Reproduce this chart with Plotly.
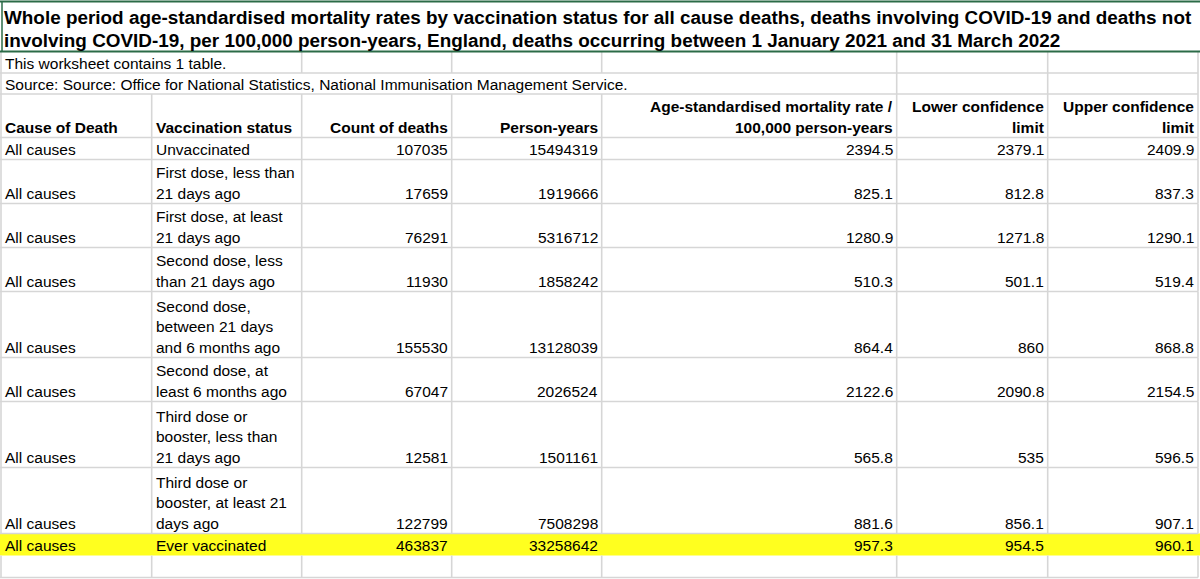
import plotly.graph_objects as go

# worksheet contents
title_lines = [
    "Whole period age-standardised mortality rates by vaccination status for all cause deaths, deaths involving COVID-19 and deaths not",
    "involving COVID-19, per 100,000 person-years, England, deaths occurring between 1 January 2021 and 31 March 2022",
]
note = "This worksheet contains 1 table."
source = "Source: Source: Office for National Statistics, National Immunisation Management Service."

headers = ["Cause of Death", "Vaccination status", "Count of deaths", "Person-years",
           "Age-standardised mortality rate /\n100,000 person-years",
           "Lower confidence\nlimit", "Upper confidence\nlimit"]

cause = ["All causes"] * 9
status = [
    "Unvaccinated",
    "First dose, less than\n21 days ago",
    "First dose, at least\n21 days ago",
    "Second dose, less\nthan 21 days ago",
    "Second dose,\nbetween 21 days\nand 6 months ago",
    "Second dose, at\nleast 6 months ago",
    "Third dose or\nbooster, less than\n21 days ago",
    "Third dose or\nbooster, at least 21\ndays ago",
    "Ever vaccinated",
]
deaths = [107035, 17659, 76291, 11930, 155530, 67047, 12581, 122799, 463837]
person_years = [15494319, 1919666, 5316712, 1858242, 13128039, 2026524, 1501161, 7508298, 33258642]
rate = [2394.5, 825.1, 1280.9, 510.3, 864.4, 2122.6, 565.8, 881.6, 957.3]
lower = [2379.1, 812.8, 1271.8, 501.1, 860, 2090.8, 535, 856.1, 954.5]
upper = [2409.9, 837.3, 1290.1, 519.4, 868.8, 2154.5, 596.5, 907.1, 960.1]
highlight_row = 8  # "Ever vaccinated"

# sheet geometry (pixels)
W, H = 1200, 579
col_edges = [1, 151.7, 301.7, 451.7, 601.7, 896.7, 1047.7, 1198]
col_align = ["left", "left", "right", "right", "right", "right", "right"]
ROW = 22        # height of one text line of a row
STEP = 20.6     # spacing of wrapped lines
PAD = 2
FONT = "Liberation Sans, Arial, sans-serif"
GRID = "#d6d6d6"
GREEN = "#2b6b47"

fig = go.Figure()
shapes = []
annotations = []


def hline(y, x0=0, x1=col_edges[-1], color=GRID, width=1.6):
    shapes.append(dict(type="line", xref="x", yref="y", x0=x0, x1=x1, y0=y, y1=y,
                       line=dict(color=color, width=width)))


def vlines(y0, y1, skip=()):
    for i, x in enumerate(col_edges):
        if i in skip:
            continue
        shapes.append(dict(type="line", xref="x", yref="y", x0=x, x1=x, y0=y0, y1=y1,
                           line=dict(color=GRID, width=1.6)))


def cell_text(text, col, bottom, bold=False, size=15.5):
    lines = text.split("\n")
    if col_align[col] == "left":
        x, anchor = col_edges[col] + PAD, "left"
    else:
        x, anchor = col_edges[col + 1] - PAD, "right"
    for k, line in enumerate(reversed(lines)):
        annotations.append(dict(
            x=x, y=bottom - 10 - k * STEP, xref="x", yref="y", text=f"<b>{line}</b>" if bold else line,
            showarrow=False, xanchor=anchor, yanchor="middle",
            font=dict(family=FONT, size=size, color="black")))


def fmt(v):
    return str(v) if isinstance(v, int) else f"{v:g}"


# title block (merged, selected cell)
for k, line in enumerate(title_lines):
    annotations.append(dict(x=2, y=17 + k * 23, xref="x", yref="y", text=f"<b>{line}</b>",
                            showarrow=False, xanchor="left", yanchor="middle",
                            font=dict(family=FONT, size=18.9, color="black")))

# note + source rows, their text overflows into neighbouring cells
cell_text(note, 0, 73)
cell_text(source, 0, 94)
vlines(52, 73, skip=(1,))
vlines(73, 94, skip=(1, 2, 3, 4))
hline(73)
hline(94)

# header
header_bottom = 137.5
vlines(94, header_bottom)
for c, h in enumerate(headers):
    cell_text(h, c, header_bottom, bold=True)
hline(header_bottom)

# body rows
y = header_bottom
for r in range(len(status)):
    n = status[r].count("\n") + 1
    bottom = y + ROW * n
    if r == highlight_row:
        shapes.insert(0, dict(type="rect", xref="x", yref="y", x0=0, x1=W, y0=y, y1=bottom,
                              fillcolor="#ffff1f", line=dict(width=0), layer="below"))
    else:
        vlines(y, bottom)
        hline(bottom)
    row = [cause[r], status[r], fmt(deaths[r]), fmt(person_years[r]),
           fmt(rate[r]), fmt(lower[r]), fmt(upper[r])]
    for c, v in enumerate(row):
        cell_text(v, c, bottom)
    y = bottom

# trailing empty row
vlines(y, y + ROW)
hline(y + ROW)

# green selection border around the title cell
hline(1.5, x0=0, x1=W, color=GREEN, width=2)
hline(51.5, x0=0, x1=W, color=GREEN, width=2)
shapes.append(dict(type="line", xref="x", yref="y", x0=2, x1=2, y0=1.5, y1=51.5,
                   line=dict(color=GREEN, width=1.5)))

fig.update_layout(
    width=W, height=H,
    margin=dict(l=0, r=0, t=0, b=0),
    paper_bgcolor="white", plot_bgcolor="white",
    xaxis=dict(range=[0, W], visible=False, fixedrange=True),
    yaxis=dict(range=[H, 0], visible=False, fixedrange=True),
    shapes=shapes,
    annotations=annotations,
    showlegend=False,
)

fig.write_html("out.html", config={"displayModeBar": False},
               post_script="document.body.style.margin='0';document.body.style.overflow='hidden';")
